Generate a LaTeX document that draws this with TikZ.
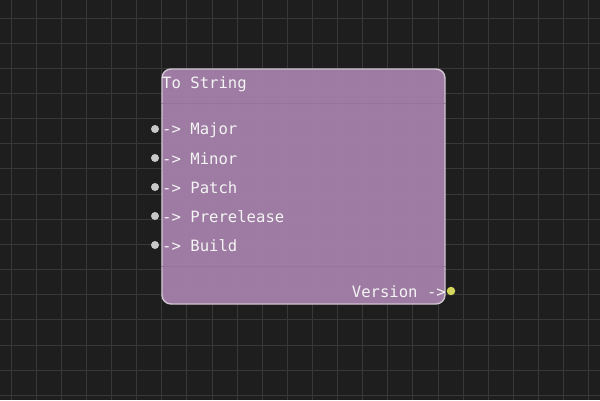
\documentclass[tikz,border=0pt]{standalone}
\usepackage{fontspec}
\setmonofont{DejaVu Sans Mono}
\definecolor{bg}{HTML}{1E1E1E}
\definecolor{gridc}{HTML}{383838}
\definecolor{nodefill}{HTML}{A37FA8}
\definecolor{nodeline}{HTML}{D2C6D3}
\definecolor{sepc}{HTML}{97749C}
\definecolor{txt}{HTML}{F4F4F4}
\definecolor{pinin}{HTML}{C8C8C8}
\definecolor{pinout}{HTML}{D4D65C}
\begin{document}
\begin{tikzpicture}[x=1pt,y=-1pt,
  lbl/.style={font=\ttfamily\fontsize{15.6}{15.6}\selectfont, text=txt, inner sep=0pt},
  inpin/.style={circle, fill=pinin, inner sep=0pt, minimum size=8pt},
  outpin/.style={circle, fill=pinout, inner sep=0pt, minimum size=8.5pt},
  nodebox/.style={draw=nodeline, line width=1.4pt, rounded corners=9pt, fill=nodefill, fill opacity=0.96, inner sep=0pt, minimum width=283pt, minimum height=235pt}]
\fill[bg] (0,0) rectangle (600,400);
\useasboundingbox (0,0) rectangle (600,400);
\foreach \i in {0,...,23}{
  \draw[gridc, line width=0.9pt] ({11+25.12*\i},0) -- ({11+25.12*\i},400);
}
\foreach \j in {0,...,15}{
  \draw[gridc, line width=0.9pt] (0,{18+25.15*\j}) -- (600,{18+25.15*\j});
}
\node[nodebox] (box) at (303.5,186.5) {};
\draw[sepc, line width=0.8pt] (box.west |- 0,103) coordinate (h1) -- (box.east |- 0,103) coordinate (h2);
\draw[sepc, line width=0.8pt] (box.west |- 0,266) coordinate (f1) -- (box.east |- 0,266) coordinate (f2);
\node[lbl, anchor=west] (title) at (162,84) {To String};
\node[inpin] (p1) at (155,129) {};
\node[inpin] (p2) at (155,158) {};
\node[inpin] (p3) at (155,187) {};
\node[inpin] (p4) at (155,216) {};
\node[inpin] (p5) at (155,245) {};
\node[lbl, anchor=west] (l1) at (162,130) {-> Major};
\node[lbl, anchor=west] (l2) at (162,159) {-> Minor};
\node[lbl, anchor=west] (l3) at (162,188) {-> Patch};
\node[lbl, anchor=west] (l4) at (162,217) {-> Prerelease};
\node[lbl, anchor=west] (l5) at (162,246) {-> Build};
\node[outpin] (q1) at (451,291) {};
\node[lbl, anchor=east] (r1) at (446,292) {Version ->};
\end{tikzpicture}
\end{document}
